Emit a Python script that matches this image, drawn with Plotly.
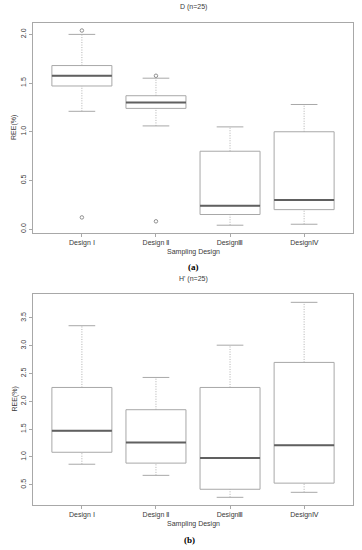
import plotly.graph_objects as go

# ---- data ----
categories = ["Design Ⅰ", "Design Ⅱ", "DesignⅢ", "DesignⅣ"]
positions = [1, 2, 3, 4]

# Panel (a): D (n=25)
a_low = [1.21, 1.06, 0.04, 0.05]
a_q1 = [1.47, 1.24, 0.15, 0.20]
a_med = [1.575, 1.30, 0.24, 0.30]
a_q3 = [1.68, 1.37, 0.80, 1.00]
a_high = [2.00, 1.55, 1.05, 1.28]
a_outliers = [[2.04, 0.12], [1.575, 0.08], [], []]

# Panel (b): H' (n=25)
b_low = [0.87, 0.67, 0.275, 0.365]
b_q1 = [1.085, 0.89, 0.42, 0.53]
b_med = [1.47, 1.26, 0.98, 1.21]
b_q3 = [2.25, 1.85, 2.25, 2.70]
b_high = [3.36, 2.43, 3.01, 3.78]
b_outliers = [[], [], [], []]

a_yticks = [0.0, 0.5, 1.0, 1.5, 2.0]
b_yticks = [0.5, 1.0, 1.5, 2.0, 2.5, 3.0, 3.5]

# ---- style ----
W, H = 362, 550
BOX_W = 0.81
CAP_HW = 0.18
BOXC = "#a8a8a8"
MEDC = "#606060"
FRAMEC = "#a8a8a8"
TEXTC = "#3a3a3a"
FONT = "Liberation Sans"

fig = go.Figure()


def add_panel(xr, yr, low, q1, med, q3, high, outliers):
    fig.add_trace(go.Box(
        x=positions, q1=q1, median=med, q3=q3,
        lowerfence=q1, upperfence=q3,
        width=BOX_W, fillcolor="rgba(0,0,0,0)",
        line=dict(color=BOXC, width=1), whiskerwidth=0,
        boxpoints=False, hoverinfo="skip", showlegend=False,
        xaxis=xr, yaxis=yr))
    # dotted whisker stems
    sx, sy = [], []
    for p, l, a, b, h in zip(positions, low, q1, q3, high):
        sx += [p, p, None, p, p, None]
        sy += [l, a, None, b, h, None]
    fig.add_trace(go.Scatter(x=sx, y=sy, mode="lines",
                             line=dict(color=BOXC, width=0.9, dash="1px,1.5px"),
                             hoverinfo="skip", showlegend=False,
                             xaxis=xr, yaxis=yr))
    # caps
    cx, cy = [], []
    for p, l, h in zip(positions, low, high):
        cx += [p - CAP_HW, p + CAP_HW, None, p - CAP_HW, p + CAP_HW, None]
        cy += [l, l, None, h, h, None]
    fig.add_trace(go.Scatter(x=cx, y=cy, mode="lines",
                             line=dict(color=BOXC, width=1),
                             hoverinfo="skip", showlegend=False,
                             xaxis=xr, yaxis=yr))
    # medians (thick)
    mx, my = [], []
    for p, m in zip(positions, med):
        mx += [p - BOX_W / 2, p + BOX_W / 2, None]
        my += [m, m, None]
    fig.add_trace(go.Scatter(x=mx, y=my, mode="lines",
                             line=dict(color=MEDC, width=2),
                             hoverinfo="skip", showlegend=False,
                             xaxis=xr, yaxis=yr))
    # outliers
    ox, oy = [], []
    for p, outs in zip(positions, outliers):
        for v in outs:
            ox.append(p)
            oy.append(v)
    if ox:
        fig.add_trace(go.Scatter(x=ox, y=oy, mode="markers",
                                 marker=dict(symbol="circle-open", size=3.5,
                                             color="#909090", line=dict(width=1)),
                                 hoverinfo="skip", showlegend=False,
                                 xaxis=xr, yaxis=yr))


add_panel("x", "y", a_low, a_q1, a_med, a_q3, a_high, a_outliers)
add_panel("x2", "y2", b_low, b_q1, b_med, b_q3, b_high, b_outliers)

xdom = [33 / W, 353 / W]
common_x = dict(range=[0.34, 4.66], tickvals=positions, ticktext=categories,
                showline=True, mirror=True, linecolor=FRAMEC, linewidth=1,
                ticks="outside", ticklen=3, tickcolor=FRAMEC,
                showgrid=False, zeroline=False,
                tickfont=dict(family=FONT, size=7, color=TEXTC))
common_y = dict(showline=True, mirror=True, linecolor=FRAMEC, linewidth=1,
                ticks="outside", ticklen=3, tickcolor=FRAMEC,
                showgrid=False, zeroline=False, tickangle=-90,
                tickformat=".1f",
                tickfont=dict(family=FONT, size=7, color=TEXTC))

fig.update_layout(
    width=W, height=H,
    margin=dict(l=0, r=0, t=0, b=0),
    paper_bgcolor="white", plot_bgcolor="white",
    showlegend=False,
    xaxis=dict(domain=xdom, anchor="y", **common_x),
    yaxis=dict(domain=[1 - 233 / H, 1 - 23 / H], anchor="x",
               range=[-0.04, 2.117], tickvals=a_yticks, **common_y),
    xaxis2=dict(domain=xdom, anchor="y2", **common_x),
    yaxis2=dict(domain=[1 - 505 / H, 1 - 294 / H], anchor="x2",
                range=[0.137, 3.93], tickvals=b_yticks, **common_y),
)


def ann(text, x, y, size=7, angle=0, family=FONT, color=TEXTC):
    fig.add_annotation(text=text, x=x / W, y=1 - y / H, xref="paper",
                       yref="paper", showarrow=False, textangle=angle,
                       font=dict(family=family, size=size, color=color),
                       xanchor="center", yanchor="middle")


ann("D (n=25)", 193, 7)
ann("Sampling Design", 193, 252)
ann("REE(%)", 14, 128, angle=-90)
ann("<b>(a)</b>", 193, 267, size=9, family="Liberation Serif", color="#000")

ann("H' (n=25)", 193, 279)
ann("Sampling Design", 193, 524)
ann("REE(%)", 14, 399.5, angle=-90)
ann("<b>(b)</b>", 189, 540, size=9, family="Liberation Serif", color="#000")

fig.write_html("out.html",
               config={"displayModeBar": False},
               post_script="document.body.style.margin='0';"
                           "document.body.style.overflow='hidden';")
